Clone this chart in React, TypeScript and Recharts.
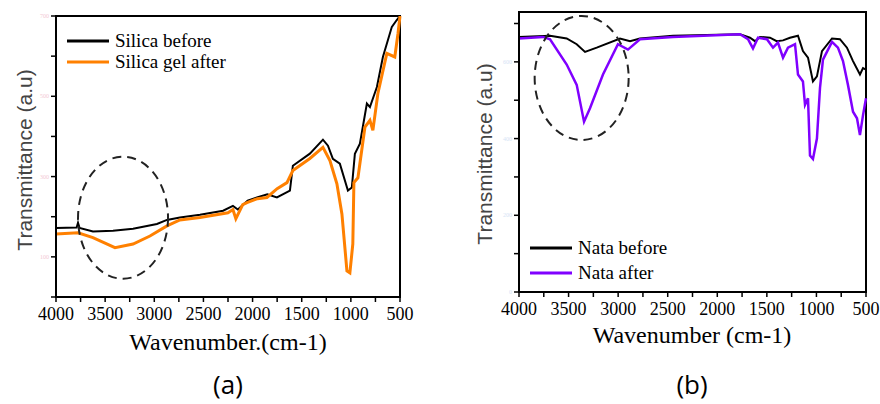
import { LineChart, Line, XAxis, YAxis, ReferenceArea, ReferenceDot } from 'recharts';

// wavenumber axis (cm-1), shared by both panels
const WN_TICKS = [4000, 3750, 3500, 3250, 3000, 2750, 2500, 2250, 2000, 1750, 1500, 1250, 1000, 750, 500];
const WN_LABELS = [4000, 3500, 3000, 2500, 2000, 1500, 1000, 500];

// panel (a) - silica
const A_Y_TICKS = [0, 10, 20, 30, 40, 50, 60, 70];
const A_Y_MAJOR = [10, 30, 50, 70];

const silicaBeforeWn = [4000, 3790, 3776, 3760, 3624, 3420, 3216, 2973, 2871, 2739, 2535, 2300, 2200, 2150, 2050, 1956, 1850, 1752, 1620, 1590, 1417, 1284, 1233, 1183, 1112, 1030, 990, 959, 908, 837, 806, 735, 674, 583, 533, 500];
const silicaBeforeT = [17.2, 17.3, 18.5, 17.2, 16.3, 16.5, 17, 18.2, 19.2, 19.8, 20.5, 21.5, 22.7, 21.8, 24, 24.8, 25.6, 24.8, 26.5, 32.7, 35.7, 39.2, 37.7, 34.4, 33.2, 26.5, 27.3, 35.7, 38.2, 48.2, 47.3, 52.3, 59.8, 67.3, 69, 70];

const silicaAfterWn = [4000, 3776, 3624, 3400, 3216, 3044, 2871, 2739, 2535, 2250, 2200, 2170, 2100, 2057, 1950, 1854, 1750, 1650, 1590, 1417, 1284, 1213, 1142, 1091, 1040, 1010, 980, 969, 928, 857, 806, 776, 725, 634, 553, 520, 500];
const silicaAfterT = [15.7, 16, 14.8, 12.3, 13.2, 15.2, 17.7, 19.2, 19.8, 21, 21.8, 19.5, 23, 23.5, 24.5, 24.8, 27, 28.5, 31.5, 34.5, 37.3, 34, 28.2, 20.7, 6.5, 6, 13.2, 28.5, 29.7, 42.3, 44, 41.5, 50.7, 60.7, 59.8, 65.7, 70];

// panel (b) - nata
const B_Y_TICKS = [0, 10, 20, 30, 40, 50, 60, 70];
const B_Y_MAJOR = [0, 20, 40, 60];

const nataBeforeWn = [4000, 3687, 3519, 3418, 3334, 3216, 2981, 2880, 2780, 2447, 1771, 1670, 1620, 1569, 1468, 1401, 1337, 1267, 1186, 1136, 1085, 1035, 995, 944, 843, 763, 692, 631, 561, 530, 500];
const nataBeforeT = [66.5, 66.8, 66.1, 64.6, 62.6, 63.7, 66.1, 65.4, 66.1, 66.8, 67.2, 66.3, 65.4, 66.5, 66.3, 65.4, 65.6, 66.3, 66.8, 62.8, 61.1, 54.9, 56.2, 62.8, 66.1, 65.9, 63.7, 60.2, 56.7, 58.4, 58];

const nataAfterWn = [4000, 3758, 3687, 3519, 3418, 3344, 3284, 3153, 3002, 2901, 2780, 2447, 1771, 1690, 1640, 1589, 1499, 1438, 1388, 1337, 1287, 1216, 1186, 1136, 1115, 1085, 1065, 1035, 995, 964, 934, 843, 783, 732, 682, 631, 591, 561, 530, 500];
const nataAfterT = [66.1, 66.5, 65.9, 59.3, 54, 44.4, 47.9, 56.7, 64.6, 63.2, 65.9, 66.5, 67.2, 65.9, 63.5, 66.3, 65.9, 63.7, 65, 61.1, 63.7, 64.6, 56.7, 54.9, 48.8, 50.5, 35.6, 34.7, 40, 53.2, 60.6, 65.2, 63.7, 60.2, 54, 47, 45.3, 40.9, 46.1, 50.5];

const zip = (wn: number[], t: number[]) => wn.map((w, i) => ({ w, t: t[i] }));

const SERIF = '"Liberation Serif", "DejaVu Serif", "Times New Roman", Times, serif';
const SANS = '"Liberation Sans", Arial, sans-serif';

const ellipse = (rx: number, ry: number) => (p: any) => (
  <ellipse cx={p.cx} cy={p.cy} rx={rx} ry={ry} fill="none" stroke="#222" strokeWidth={2} strokeDasharray="9 6" />
);

interface Series {
  name: string;
  color: string;
  width: number;
  data: { w: number; t: number }[];
}

interface PanelProps {
  left: number;
  width: number;
  margin: { top: number; right: number; bottom: number; left: number };
  yTicks: number[];
  yMajor: number[];
  yMax: number;
  yLabelColor: string;
  series: Series[];
  circle: { w: number; t: number; rx: number; ry: number };
}

function Panel({ left, width, margin, yTicks, yMajor, yMax, yLabelColor, series, circle }: PanelProps) {
  return (
    <div style={{ position: 'absolute', left, top: 0 }}>
      <LineChart width={width} height={404} margin={margin} style={{ fontFamily: SERIF }}>
        <XAxis
          type="number"
          dataKey="w"
          domain={[500, 4000]}
          reversed
          ticks={WN_TICKS}
          interval={0}
          tickFormatter={(v) => (WN_LABELS.includes(v) ? String(v) : '')}
          tick={{ fontSize: 18, fill: '#000', style: { fontFamily: SERIF } }}
          tickSize={5}
          tickMargin={5}
          tickLine={{ stroke: '#000', strokeWidth: 1.5 }}
          axisLine={{ stroke: '#000', strokeWidth: 2 }}
          height={30}
        />
        <YAxis
          type="number"
          domain={[0, yMax]}
          allowDataOverflow
          ticks={yTicks}
          interval={0}
          tickFormatter={(v) => (yMajor.includes(v) ? String(v * 10) : '')}
          tick={{ fontSize: 6, fill: yLabelColor }}
          tickSize={5}
          tickLine={{ stroke: '#000', strokeWidth: 1.5 }}
          axisLine={{ stroke: '#000', strokeWidth: 2 }}
          width={40}
        />
        {series.map((s) => (
          <Line
            key={s.name}
            name={s.name}
            data={s.data}
            dataKey="t"
            type="linear"
            stroke={s.color}
            strokeWidth={s.width}
            dot={false}
            isAnimationActive={false}
          />
        ))}
        <ReferenceDot x={circle.w} y={circle.t} r={0} shape={ellipse(circle.rx, circle.ry)} />
        <ReferenceArea x1={4000} x2={500} y1={0} y2={yMax} fill="none" fillOpacity={0} stroke="#000" strokeWidth={2} />
      </LineChart>
    </div>
  );
}

function LegendBox({ x, y, series, gap }: { x: number; y: number; series: Series[]; gap: number }) {
  return (
    <div style={{ position: 'absolute', left: x, top: y }}>
      {series.map((s, i) => (
        <div key={s.name} style={{ position: 'absolute', left: 0, top: i * gap, height: 22, display: 'flex', alignItems: 'center', whiteSpace: 'nowrap' }}>
          <svg width={48} height={6} style={{ display: 'block' }}>
            <line x1={0} y1={3} x2={42} y2={3} stroke={s.color} strokeWidth={3} />
          </svg>
          <span style={{ fontFamily: SERIF, fontSize: 19, lineHeight: '22px', color: '#000' }}>{s.name}</span>
        </div>
      ))}
    </div>
  );
}

const text = (x: number, y: number, content: string, style: React.CSSProperties, rotate = false) => (
  <div
    style={{
      position: 'absolute',
      left: x,
      top: y,
      transform: `translate(-50%, -50%)${rotate ? ' rotate(-90deg)' : ''}`,
      whiteSpace: 'nowrap',
      lineHeight: 1,
      ...style,
    }}
  >
    {content}
  </div>
);

export default function App() {
  const silica: Series[] = [
    { name: 'Silica before', color: '#000000', width: 2, data: zip(silicaBeforeWn, silicaBeforeT) },
    { name: 'Silica gel  after', color: '#FF8000', width: 3, data: zip(silicaAfterWn, silicaAfterT) },
  ];
  const nata: Series[] = [
    { name: 'Nata before', color: '#000000', width: 2, data: zip(nataBeforeWn, nataBeforeT) },
    { name: 'Nata after', color: '#8000FF', width: 2.5, data: zip(nataAfterWn, nataAfterT) },
  ];

  return (
    <div style={{ position: 'absolute', left: 0, top: 0, width: 880, height: 404, background: '#fff', overflow: 'hidden' }}>
      <Panel
        left={0}
        width={420}
        margin={{ top: 16, right: 20, bottom: 77, left: 16 }}
        yTicks={A_Y_TICKS}
        yMajor={A_Y_MAJOR}
        yMax={70}
        yLabelColor="#f3c9d3"
        series={silica}
        circle={{ w: 3318, t: 19.75, rx: 45, ry: 61 }}
      />
      <Panel
        left={440}
        width={440}
        margin={{ top: 12, right: 14, bottom: 82, left: 39 }}
        yTicks={B_Y_TICKS}
        yMajor={B_Y_MAJOR}
        yMax={73}
        yLabelColor="#d6e4f5"
        series={nata}
        circle={{ w: 3368, t: 55.8, rx: 47, ry: 62 }}
      />
      <LegendBox x={67} y={30} series={silica} gap={21} />
      <LegendBox x={530} y={237} series={nata} gap={25} />
      {text(24, 160, 'Transmittance (a.u)', { fontFamily: SANS, fontSize: 21, color: '#444' }, true)}
      {text(484, 154, 'Transmittance (a.u)', { fontFamily: SANS, fontSize: 21, color: '#444' }, true)}
      {text(228, 342, 'Wavenumber.(cm-1)', { fontFamily: SERIF, fontSize: 24 })}
      {text(692, 335, 'Wavenumber (cm-1)', { fontFamily: SERIF, fontSize: 24 })}
      {text(228, 384, '(a)', { fontFamily: '"Open Sans", sans-serif', fontSize: 26 })}
      {text(692, 384, '(b)', { fontFamily: '"Open Sans", sans-serif', fontSize: 26 })}
    </div>
  );
}
